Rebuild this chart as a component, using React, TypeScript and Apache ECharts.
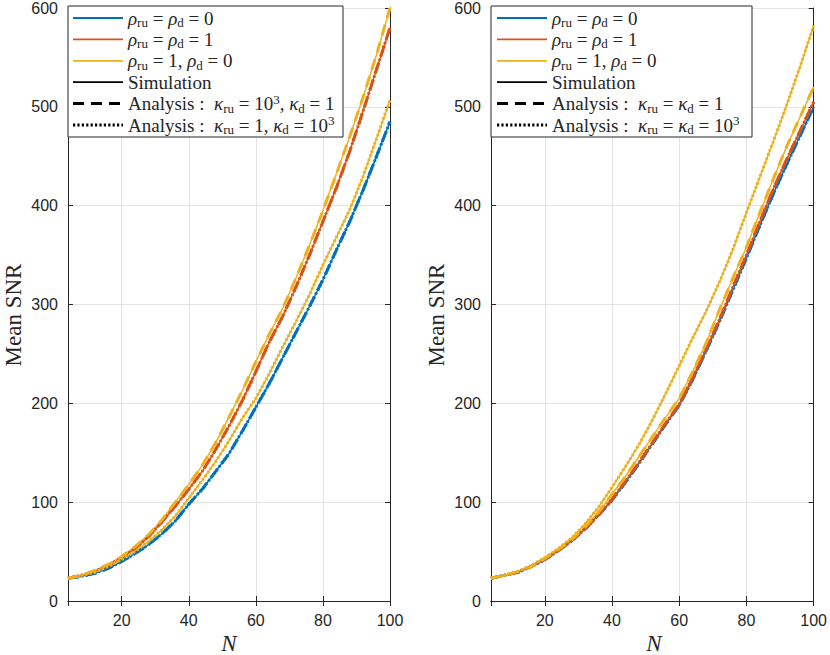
import { useEffect, useRef } from 'react';
import * as echarts from 'echarts';

// ---- data ----
const N = [4, 8, 12, 16, 20, 24, 28, 32, 36, 40, 44, 48, 52, 56, 60, 64, 68, 72, 76, 80, 84, 88, 92, 96, 100];

// left panel
const leftBlue = [23, 25, 28, 33, 40, 48, 57, 68, 81, 98, 113, 131, 149, 172, 196, 220, 246, 272, 298, 325, 355, 384, 416, 450, 485];
const leftRed = [23, 26, 30, 36, 44, 53, 65, 80, 96, 113, 131, 153, 177, 203, 232, 262, 288, 318, 350, 384, 418, 455, 496, 538, 580];
const leftYellowA = [23, 26, 31, 37, 45, 55, 67, 82, 100, 118, 137, 160, 186, 213, 242, 270, 296, 327, 360, 395, 432, 470, 510, 553, 600];
const leftYellowB = [23, 26, 29, 35, 42, 50, 60, 72, 86, 104, 122, 141, 162, 185, 205, 230, 257, 283, 310, 340, 368, 396, 430, 468, 507];

// right panel
const rightBlue = [23, 26, 29, 35, 42, 51, 61, 73, 87, 102, 120, 139, 159, 179, 198, 224, 253, 283, 315, 347, 380, 412, 442, 471, 500];
const rightRed = [23, 26, 29, 35, 42, 51, 61, 73, 87, 103, 121, 140, 160, 180, 199, 226, 255, 285, 318, 350, 384, 417, 447, 476, 505];
const rightYellowA = [23, 26, 30, 35, 43, 52, 62, 75, 90, 108, 126, 146, 166, 186, 205, 232, 261, 295, 327, 358, 393, 427, 460, 490, 520];
const rightYellowB = [23, 26, 30, 36, 44, 53, 64, 78, 95, 115, 136, 158, 183, 210, 238, 266, 293, 323, 356, 393, 429, 465, 502, 541, 582];

const xTicks = [20, 40, 60, 80, 100];
const yTicks = [0, 100, 200, 300, 400, 500, 600];

const BLUE = '#0072BD';
const RED = '#D95319';
const YELLOW = '#EDB120';
const INK = '#262626';
const GRIDC = '#e3e3e3';
const SANS = "'Liberation Sans', Arial, sans-serif";
const SERIF = "'Liberation Serif', 'Times New Roman', serif";

const pairs = (ys: number[]) => N.map((n, i) => [n, ys[i]]);

const DASH = [11, 7];
const DOT = [2.2, 2.2];

function line(name: string, ys: number[], color: string, kind: 'solid' | 'dashed' | 'dotted', gi: number) {
  return {
    type: 'line',
    name,
    xAxisIndex: gi * 2,
    yAxisIndex: gi * 2,
    data: pairs(ys),
    showSymbol: false,
    symbol: 'none',
    silent: true,
    lineStyle: {
      color,
      width: kind === 'solid' ? 1.5 : 3,
      type: kind === 'solid' ? 'solid' : kind === 'dashed' ? DASH : DOT,
      cap: 'butt',
    },
    z: kind === 'solid' ? 2 : 3,
  };
}

const rich = {
  m: { fontFamily: SERIF, fontStyle: 'italic', fontSize: 19, lineHeight: 22, color: INK },
  r: { fontFamily: SERIF, fontSize: 19, lineHeight: 22, color: INK },
  s: { fontFamily: SERIF, fontSize: 13, lineHeight: 12, verticalAlign: 'bottom', color: INK },
  p: { fontFamily: SERIF, fontSize: 13, lineHeight: 12, verticalAlign: 'top', color: INK },
};

const leftLegend = [
  { color: BLUE, dash: null, text: '{m|ρ}{s|ru}{r| = }{m|ρ}{s|d}{r| = 0}' },
  { color: RED, dash: null, text: '{m|ρ}{s|ru}{r| = }{m|ρ}{s|d}{r| = 1}' },
  { color: YELLOW, dash: null, text: '{m|ρ}{s|ru}{r| = 1, }{m|ρ}{s|d}{r| = 0}' },
  { color: '#000', dash: null, text: '{r|Simulation}' },
  { color: '#000', dash: DASH, text: '{r|Analysis : }{m| κ}{s|ru}{r| = 10}{p|3}{r|, }{m|κ}{s|d}{r| = 1}' },
  { color: '#000', dash: DOT, text: '{r|Analysis : }{m| κ}{s|ru}{r| = 1, }{m|κ}{s|d}{r| = 10}{p|3}' },
];
const rightLegend = [
  leftLegend[0],
  leftLegend[1],
  leftLegend[2],
  leftLegend[3],
  { color: '#000', dash: DASH, text: '{r|Analysis : }{m| κ}{s|ru}{r| = }{m|κ}{s|d}{r| = 1}' },
  { color: '#000', dash: DOT, text: '{r|Analysis : }{m| κ}{s|ru}{r| = }{m|κ}{s|d}{r| = 10}{p|3}' },
];

function legendGraphics(x0: number, boxW: number, lineX0: number, lineX1: number, textX: number, entries: any[]) {
  const els: any[] = [
    { type: 'rect', shape: { x: x0, y: 6, width: boxW, height: 131 }, style: { fill: '#fff', stroke: INK, lineWidth: 1 }, z: 100 },
  ];
  entries.forEach((e, i) => {
    const y = 18 + i * 21.4;
    els.push({
      type: 'line',
      shape: { x1: lineX0, y1: y, x2: lineX1, y2: y },
      style: { stroke: e.color, lineWidth: e.dash ? 3 : 1.8, lineDash: e.dash || undefined },
      z: 101,
    });
    els.push({
      type: 'text',
      x: textX,
      y,
      style: { text: e.text, rich, verticalAlign: 'middle', align: 'left', fill: INK, fontFamily: SERIF, fontSize: 19 },
      z: 101,
    });
  });
  return els;
}

function axesFor(gi: number) {
  const xBottom = {
    type: 'value', gridIndex: gi, min: 4, max: 100, splitNumber: 5, position: 'bottom',
    axisLine: { show: true, lineStyle: { color: INK, width: 1 } },
    axisTick: { show: true, inside: true, length: 5, lineStyle: { color: INK } },
    axisLabel: {
      color: INK, fontSize: 16, fontFamily: SANS, margin: 11,
      formatter: (v: number) => (xTicks.includes(v) ? String(v) : ''),
    },
    splitLine: { show: true, lineStyle: { color: GRIDC, width: 1 } },
  };
  const xTop = {
    type: 'value', gridIndex: gi, min: 4, max: 100, splitNumber: 5, position: 'top',
    axisLine: { show: true, lineStyle: { color: INK, width: 1 } },
    axisTick: { show: true, inside: true, length: 5, lineStyle: { color: INK } },
    axisLabel: { show: false },
    splitLine: { show: false },
  };
  const yLeft = {
    type: 'value', gridIndex: gi, min: 0, max: 600, interval: 100, position: 'left',
    axisLine: { show: true, lineStyle: { color: INK, width: 1 } },
    axisTick: { show: true, inside: true, length: 5, lineStyle: { color: INK } },
    axisLabel: {
      color: INK, fontSize: 16, fontFamily: SANS, margin: 10,
      formatter: (v: number) => (yTicks.includes(v) ? String(v) : ''),
    },
    splitLine: { show: true, lineStyle: { color: GRIDC, width: 1 } },
  };
  const yRight = {
    type: 'value', gridIndex: gi, min: 0, max: 600, interval: 100, position: 'right',
    axisLine: { show: true, lineStyle: { color: INK, width: 1 } },
    axisTick: { show: true, inside: true, length: 5, lineStyle: { color: INK } },
    axisLabel: { show: false },
    splitLine: { show: false },
  };
  return { x: [xBottom, xTop], y: [yLeft, yRight] };
}

export default function App() {
  const ref = useRef<HTMLDivElement>(null);
  useEffect(() => {
    if (!ref.current) return;
    const chart = echarts.init(ref.current, null, { renderer: 'svg' });
    const a0 = axesFor(0);
    const a1 = axesFor(1);
    const series: any[] = [
      // left panel: simulations
      line('Sim ρ=0', leftBlue, BLUE, 'solid', 0),
      line('Sim ρ=1', leftRed, RED, 'solid', 0),
      line('Sim mixed A', leftYellowA, YELLOW, 'solid', 0),
      line('Sim mixed B', leftYellowB, YELLOW, 'solid', 0),
      // left panel: analysis
      line('Ana1 ρ=0', leftBlue, BLUE, 'dashed', 0),
      line('Ana2 ρ=0', leftBlue, BLUE, 'dotted', 0),
      line('Ana2 ρ=1', leftRed, RED, 'dotted', 0),
      line('Ana1 ρ=1', leftRed, RED, 'dashed', 0),
      line('Ana1 mixed', leftYellowA, YELLOW, 'dashed', 0),
      line('Ana2 mixed', leftYellowB, YELLOW, 'dotted', 0),
      // right panel: simulations
      line('Sim ρ=0 R', rightBlue, BLUE, 'solid', 1),
      line('Sim ρ=1 R', rightRed, RED, 'solid', 1),
      line('Sim mixed A R', rightYellowA, YELLOW, 'solid', 1),
      line('Sim mixed B R', rightYellowB, YELLOW, 'solid', 1),
      // right panel: analysis
      line('Ana1 ρ=0 R', rightBlue, BLUE, 'dashed', 1),
      line('Ana2 ρ=0 R', rightBlue, BLUE, 'dotted', 1),
      line('Ana2 ρ=1 R', rightRed, RED, 'dotted', 1),
      line('Ana1 ρ=1 R', rightRed, RED, 'dashed', 1),
      line('Ana1 mixed R', rightYellowA, YELLOW, 'dashed', 1),
      line('Ana2 mixed R', rightYellowB, YELLOW, 'dotted', 1),
    ];
    chart.setOption({
      animation: false,
      backgroundColor: '#fff',
      grid: [
        { left: 68, top: 6, width: 322, height: 595 },
        { left: 491, top: 6, width: 326, height: 595 },
      ],
      xAxis: [...a0.x, ...a1.x],
      yAxis: [...a0.y, ...a1.y],
      series,
      graphic: [
        ...legendGraphics(68, 275, 73, 123, 128, leftLegend),
        ...legendGraphics(491, 261, 497, 547, 552, rightLegend),
        { type: 'text', x: 13, y: 315, rotation: Math.PI / 2, style: { text: 'Mean SNR', fontFamily: SERIF, fontSize: 23, fill: INK, align: 'center', verticalAlign: 'middle' }, z: 50 },
        { type: 'text', x: 436, y: 315, rotation: Math.PI / 2, style: { text: 'Mean SNR', fontFamily: SERIF, fontSize: 23, fill: INK, align: 'center', verticalAlign: 'middle' }, z: 50 },
        { type: 'text', x: 229, y: 643, style: { text: 'N', fontFamily: SERIF, fontStyle: 'italic', fontSize: 23, fill: INK, align: 'center', verticalAlign: 'middle' }, z: 50 },
        { type: 'text', x: 654, y: 643, style: { text: 'N', fontFamily: SERIF, fontStyle: 'italic', fontSize: 23, fill: INK, align: 'center', verticalAlign: 'middle' }, z: 50 },
      ],
    });
    return () => chart.dispose();
  }, []);
  return <div ref={ref} style={{ position: 'fixed', left: 0, top: 0, width: 830, height: 655, background: '#fff' }} />;
}
